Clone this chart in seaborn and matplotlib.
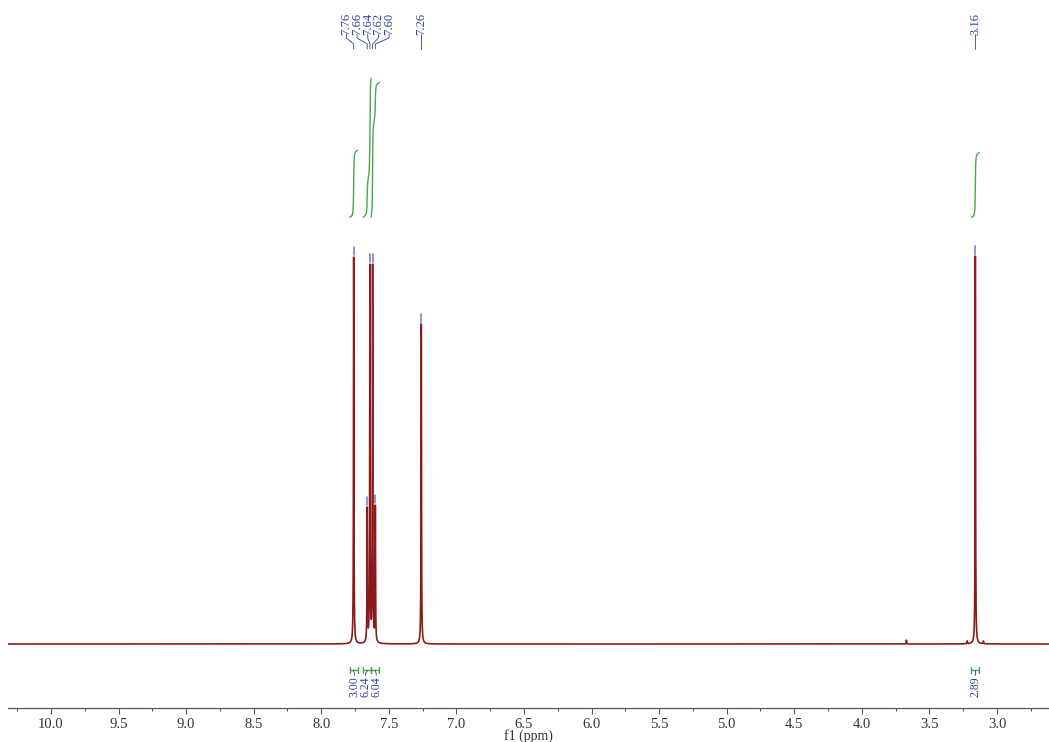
import numpy as np
import pandas as pd
import seaborn as sns
import matplotlib
matplotlib.use("Agg")
import matplotlib.pyplot as plt
import matplotlib.transforms as mtransforms
from matplotlib.ticker import MultipleLocator

# ---- peak list (ppm) and observed peak heights (relative, CH3 singlet = 100)
peak_ppm = [7.76, 7.66, 7.64, 7.62, 7.60, 7.26, 3.67, 3.22, 3.16, 3.10]
peak_height = [99.7, 35.3, 97.9, 97.9, 35.8, 82.5, 1.0, 0.8, 100.0, 0.8]

# peaks that carry a chemical-shift label
label_ppm = [7.76, 7.66, 7.64, 7.62, 7.60, 7.26, 3.16]
label_text = ["7.76", "7.66", "7.64", "7.62", "7.60", "7.26", "3.16"]

# integration regions (ppm) and integral values
integral_start = [7.79, 7.69, 7.630, 3.19]
integral_end = [7.73, 7.630, 7.57, 3.13]
integral_value = [3.00, 6.24, 6.04, 2.89]
integral_text = ["3.00", "6.24", "6.04", "2.89"]

HWHM = 0.0018  # Lorentzian half width, ppm

# ---- colours
SPEC = "#8b1a1a"
BLUE = "#34409a"
MARK = "#7b7fd8"
GREEN = "#4aa84a"
AXIS = "#555555"

FONT = ["Liberation Serif", "DejaVu Serif"]


def lorentz(x, x0):
    return 1.0 / (1.0 + ((x - x0) / HWHM) ** 2)


def spread(centers, spacing):
    """Spread label positions (descending ppm) so neighbours keep a gap."""
    groups = [[centers[0]]]
    for p in centers[1:]:
        if groups[-1][-1] - p < 1.5 * spacing:
            groups[-1].append(p)
        else:
            groups.append([p])
    out = []
    for g in groups:
        c = np.mean(g)
        n = len(g)
        out += [c + ((n - 1) / 2 - k) * spacing for k in range(n)]
    return out


# amplitudes such that the summed spectrum reproduces the listed heights
pk = np.array(peak_ppm)
A = lorentz(pk[:, None], pk[None, :])
amps = np.linalg.solve(A, np.array(peak_height))

ppm = np.arange(10.35, 2.58, -0.0004)
spectrum = (amps[None, :] * lorentz(ppm[:, None], pk[None, :])).sum(axis=1)
df = pd.DataFrame({"ppm": ppm, "intensity": spectrum})

sns.set_theme(style="white")
plt.rcParams["font.family"] = FONT

W, H = 1049, 742
fig = plt.figure(figsize=(W / 100, H / 100), dpi=100)
ax_px = (8, 34, 1041, 708)  # left, bottom, width, height in pixels
ax = fig.add_axes([ax_px[0] / W, ax_px[1] / H, ax_px[2] / W, ax_px[3] / H])

sns.lineplot(data=df, x="ppm", y="intensity", ax=ax, color=SPEC,
             linewidth=1.2, estimator=None, sort=False)

ref = max(peak_height)
ax.set_xlim(10.318, 2.615)
ax.set_ylim(-0.165 * ref, 1.66 * ref)

# ---- integral curves
int_base = 1.10 * ref
int_scale = 0.0575 * ref
for s, e, v in zip(integral_start, integral_end, integral_value):
    m = (ppm <= s) & (ppm >= e)
    c = np.cumsum(spectrum[m])
    c = c / c[-1]
    sns.lineplot(x=ppm[m], y=int_base + c * v * int_scale, ax=ax,
                 color=GREEN, linewidth=1.0, estimator=None, sort=False)

# ---- integral brackets and values under the baseline
br_y = -0.067 * ref
tk = 0.007 * ref
knee_y = -0.076 * ref
txt_y = -0.083 * ref
mids = [0.5 * (s + e) for s, e in zip(integral_start, integral_end)]
txt_x = spread(mids, 0.08)
for s, e, t, mid, tx in zip(integral_start, integral_end, integral_text,
                            mids, txt_x):
    ax.plot([s, e], [br_y, br_y], color=GREEN, lw=1.0)
    ax.plot([s, s], [br_y - tk, br_y + tk], color=GREEN, lw=1.0)
    ax.plot([e, e], [br_y - tk, br_y + tk], color=GREEN, lw=1.0)
    ax.plot([mid, mid, tx, tx],
            [br_y, br_y - 0.004 * ref, knee_y, txt_y + 0.002 * ref],
            color=BLUE, lw=0.6)
    ax.text(tx, txt_y, t, rotation=90, ha="center", va="top",
            fontsize=8.5, color=BLUE)

# ---- peak markers just above each labelled peak top
for p in label_ppm:
    h = peak_height[peak_ppm.index(p)]
    ax.plot([p, p], [h + 0.006 * ref, h + 0.026 * ref], color=MARK, lw=1.2)

# ---- shift labels along the top, spread apart inside crowded groups
pos = spread(label_ppm, 0.079)
trans = mtransforms.blended_transform_factory(ax.transData, ax.transAxes)
fy = lambda y_px: 1 - y_px / ax_px[3]
for p, lx, t in zip(label_ppm, pos, label_text):
    ax.plot([lx, lx, p, p], [fy(34), fy(38), fy(44), fy(49)],
            color=BLUE, lw=0.6, transform=trans, clip_on=False)
    ax.text(lx, fy(35), t, rotation=90, ha="center", va="bottom",
            fontsize=9, color=BLUE, transform=trans)

# ---- axis styling
for side in ["left", "right", "top"]:
    ax.spines[side].set_visible(False)
ax.spines["bottom"].set_color(AXIS)
ax.spines["bottom"].set_linewidth(0.9)
ax.set_yticks([])
ax.set_ylabel("")
ax.xaxis.set_major_locator(MultipleLocator(0.5))
ax.xaxis.set_minor_locator(MultipleLocator(0.25))
ax.tick_params(axis="x", which="major", direction="out", length=4.5, width=0.8,
               color=AXIS, labelsize=10.5, labelcolor="#333333", pad=2.5,
               bottom=True)
ax.tick_params(axis="x", which="minor", direction="out", length=2.4,
               width=0.8, color=AXIS, bottom=True)
ax.xaxis.set_major_formatter(plt.FuncFormatter(lambda v, _: f"{v:.1f}"))
ax.set_xlabel("f1 (ppm)", fontsize=10, color="#333333", labelpad=-1)
ax.set_facecolor("white")
fig.patch.set_facecolor("white")

fig.savefig("out.png", dpi=100, facecolor="white")
